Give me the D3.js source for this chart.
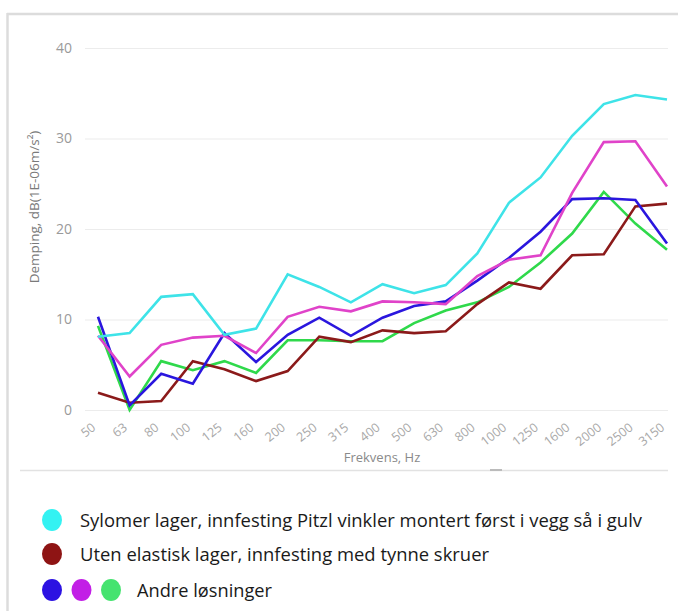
<!DOCTYPE html>
<html>
<head>
<meta charset="utf-8">
<script src="https://cdn.jsdelivr.net/npm/d3@7"></script>
<style>
  html, body { margin: 0; padding: 0; background: #fff; }
  svg { display: block; }
</style>
</head>
<body>
<svg id="chart" width="678" height="611"></svg>
<script>
const categories = ["50","63","80","100","125","160","200","250","315","400","500","630","800","1000","1250","1600","2000","2500","3150"];
const yTicks = [0, 10, 20, 30, 40];

const sylomer = [8.1, 8.5, 12.5, 12.8, 8.3, 9.0, 15.0, 13.6, 11.9, 13.9, 12.9, 13.8, 17.3, 22.9, 25.7, 30.3, 33.8, 34.8, 34.3];
const utenElastisk = [1.9, 0.8, 1.0, 5.4, 4.5, 3.2, 4.3, 8.1, 7.5, 8.8, 8.5, 8.7, 11.7, 14.1, 13.4, 17.1, 17.2, 22.5, 22.8];
const andreBlue = [10.3, 0.5, 4.0, 2.9, 8.5, 5.3, 8.3, 10.2, 8.2, 10.2, 11.5, 12.0, 14.3, 16.8, 19.7, 23.3, 23.4, 23.2, 18.4];
const andreMagenta = [8.2, 3.7, 7.2, 8.0, 8.2, 6.3, 10.3, 11.4, 10.9, 12.0, 11.9, 11.7, 14.8, 16.6, 17.1, 24.0, 29.6, 29.7, 24.7];
const andreGreen = [9.3, 0.0, 5.4, 4.4, 5.4, 4.1, 7.7, 7.7, 7.6, 7.6, 9.6, 11.0, 11.9, 13.6, 16.3, 19.5, 24.1, 20.6, 17.7];

const seriesList = [
  { name: "Andre (grønn)", values: andreGreen, color: "#2fd94b" },
  { name: "Uten elastisk lager", values: utenElastisk, color: "#8b1a1a" },
  { name: "Andre (blå)", values: andreBlue, color: "#2a16de" },
  { name: "Andre (magenta)", values: andreMagenta, color: "#e043c9" },
  { name: "Sylomer lager", values: sylomer, color: "#3ee3e8" }
];

const legendRows = [
  { colors: ["#33f2f2"], text: "Sylomer lager, innfesting Pitzl vinkler montert først i vegg så i gulv", width: 562 },
  { colors: ["#8e1414"], text: "Uten elastisk lager, innfesting med tynne skruer", width: 409 },
  { colors: ["#2c12e2", "#c21fe6", "#45e36f"], text: "Andre løsninger", width: 135 }
];

const svg = d3.select("#chart");

// frame
svg.append("line").attr("x1", 7.5).attr("x2", 7.5).attr("y1", 13).attr("y2", 611)
  .attr("stroke", "#dcdcdc").attr("stroke-width", 2.5);
svg.append("line").attr("x1", 7).attr("x2", 678).attr("y1", 14).attr("y2", 14)
  .attr("stroke", "#dcdcdc").attr("stroke-width", 2.5);
svg.append("line").attr("x1", 20).attr("x2", 668).attr("y1", 470.5).attr("y2", 470.5)
  .attr("stroke", "#e2e2e2").attr("stroke-width", 1.5);
svg.append("line").attr("x1", 490).attr("x2", 502).attr("y1", 470).attr("y2", 470)
  .attr("stroke", "#bbb").attr("stroke-width", 2);

const x = d3.scalePoint().domain(categories).range([98, 667]);
const y = d3.scaleLinear().domain([0, 40]).range([410, 48]);

// grid + y axis
const yAxis = d3.axisLeft(y).tickValues(yTicks).tickSize(-(668 - 85)).tickPadding(13);
const gy = svg.append("g").attr("transform", "translate(85,0)").call(yAxis);
gy.select(".domain").remove();
gy.selectAll(".tick line").attr("stroke", "#ececec").attr("stroke-width", 1.2);
gy.selectAll(".tick text").attr("fill", "#9a9a9a").style("font-family", "Open Sans").style("font-size", "14px");

// x axis labels
const xAxis = d3.axisBottom(x).tickSize(0).tickPadding(0);
const gx = svg.append("g").attr("transform", "translate(0,410)").call(xAxis);
gx.select(".domain").remove();
gx.selectAll(".tick text")
  .attr("fill", "#a8a8a8")
  .style("font-family", "Open Sans")
  .style("font-size", "12.5px")
  .attr("text-anchor", "end")
  .attr("dy", null)
  .attr("y", 0)
  .attr("transform", "translate(-2,19) rotate(-38)");

// axis titles
svg.append("text")
  .attr("transform", "translate(39,207) rotate(-90)")
  .attr("text-anchor", "middle")
  .attr("fill", "#7a7a7a")
  .style("font-family", "Open Sans")
  .style("font-size", "13.5px")
  .text("Demping, dB(1E-06m/s²)");
svg.append("text")
  .attr("x", 382).attr("y", 462)
  .attr("text-anchor", "middle")
  .attr("fill", "#8a8a8a")
  .style("font-family", "Open Sans")
  .style("font-size", "13px")
  .text("Frekvens, Hz");

// lines
const line = d3.line().x((d, i) => x(categories[i])).y(d => y(d));
svg.append("g").selectAll("path").data(seriesList).join("path")
  .attr("d", d => line(d.values))
  .attr("fill", "none")
  .attr("stroke", d => d.color)
  .attr("stroke-width", 2.6)
  .attr("stroke-linejoin", "miter");

// legend
const rowY = [520, 554, 590];
legendRows.forEach((row, r) => {
  const cy = rowY[r];
  row.colors.forEach((c, i) => {
    svg.append("ellipse").attr("cx", 52 + i * 29.5).attr("cy", cy).attr("rx", 10).attr("ry", 11).attr("fill", c);
  });
  const tx = row.colors.length > 1 ? 137 : 80;
  svg.append("text")
    .attr("x", tx).attr("y", cy + 6.5)
    .attr("fill", "#1a1a1a")
    .style("font-family", "Open Sans")
    .style("font-size", "18px")
    .attr("textLength", row.width)
    .attr("lengthAdjust", "spacingAndGlyphs")
    .text(row.text);
});
</script>
</body>
</html>
